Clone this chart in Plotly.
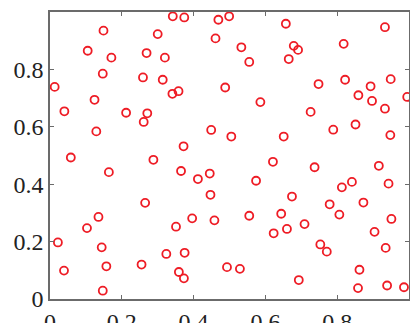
import plotly.graph_objects as go

x_vals = [0.342, 0.374, 0.469, 0.499, 0.149, 0.300, 0.461, 0.105, 0.269, 0.171,
          0.320, 0.147, 0.259, 0.314, 0.013, 0.488, 0.341, 0.358, 0.124, 0.040,
          0.212, 0.271, 0.261, 0.129, 0.449, 0.505, 0.372, 0.058, 0.288, 0.657,
          0.933, 0.533, 0.679, 0.691, 0.818, 0.555, 0.665, 0.748, 0.822, 0.893,
          0.949, 0.859, 0.897, 0.995, 0.586, 0.933, 0.726, 0.851, 0.789, 0.651,
          0.948, 0.621, 0.737, 0.916, 0.164, 0.365, 0.412, 0.445, 0.447, 0.265,
          0.135, 0.396, 0.458, 0.103, 0.351, 0.022, 0.144, 0.324, 0.375, 0.039,
          0.157, 0.255, 0.493, 0.359, 0.373, 0.147, 0.574, 0.841, 0.813, 0.943,
          0.674, 0.779, 0.873, 0.555, 0.644, 0.806, 0.951, 0.709, 0.660, 0.623,
          0.904, 0.753, 0.771, 0.935, 0.529, 0.862, 0.693, 0.858, 0.939, 0.986]
y_vals = [0.985, 0.981, 0.973, 0.985, 0.935, 0.923, 0.908, 0.865, 0.857, 0.841,
          0.841, 0.785, 0.772, 0.764, 0.739, 0.737, 0.715, 0.724, 0.694, 0.654,
          0.649, 0.647, 0.617, 0.584, 0.589, 0.566, 0.532, 0.493, 0.485, 0.959,
          0.947, 0.877, 0.882, 0.868, 0.889, 0.826, 0.836, 0.749, 0.764, 0.741,
          0.766, 0.710, 0.690, 0.704, 0.686, 0.663, 0.652, 0.608, 0.590, 0.566,
          0.571, 0.478, 0.459, 0.464, 0.442, 0.446, 0.418, 0.437, 0.363, 0.335,
          0.286, 0.281, 0.274, 0.247, 0.252, 0.197, 0.180, 0.157, 0.161, 0.099,
          0.114, 0.120, 0.111, 0.094, 0.072, 0.029, 0.412, 0.408, 0.389, 0.402,
          0.357, 0.330, 0.336, 0.290, 0.297, 0.294, 0.279, 0.261, 0.244, 0.229,
          0.234, 0.190, 0.165, 0.178, 0.105, 0.102, 0.066, 0.038, 0.047, 0.041]

tick_vals = [0, 0.2, 0.4, 0.6, 0.8, 1.0]
tick_text = ["0", "0.2", "0.4", "0.6", "0.8", "1.0"]

fig = go.Figure()
fig.add_trace(go.Scatter(
    x=x_vals, y=y_vals, mode="markers",
    marker=dict(symbol="circle-open", size=8, color="#ee1c25",
                line=dict(width=1.8, color="#ee1c25")),
    cliponaxis=False, showlegend=False,
))

axis_common = dict(
    range=[0, 1], tickvals=tick_vals, ticktext=tick_text,
    showgrid=False, zeroline=False, showline=True, linecolor="#6b6b6b",
    linewidth=1.5, mirror="ticks", ticks="inside", ticklen=4,
    tickcolor="#6b6b6b", tickwidth=1, automargin=False,
    tickfont=dict(family="Liberation Serif", size=24, color="#222222"),
)

fig.update_xaxes(**axis_common)
fig.update_yaxes(**axis_common)

# page body adds an 8px margin; size the figure so the plot lands where the reference has it
fig.update_layout(
    width=410, height=315,
    margin=dict(l=42, r=9, t=4, b=24),
    paper_bgcolor="white", plot_bgcolor="white",
)

fig.write_html("out.html")
